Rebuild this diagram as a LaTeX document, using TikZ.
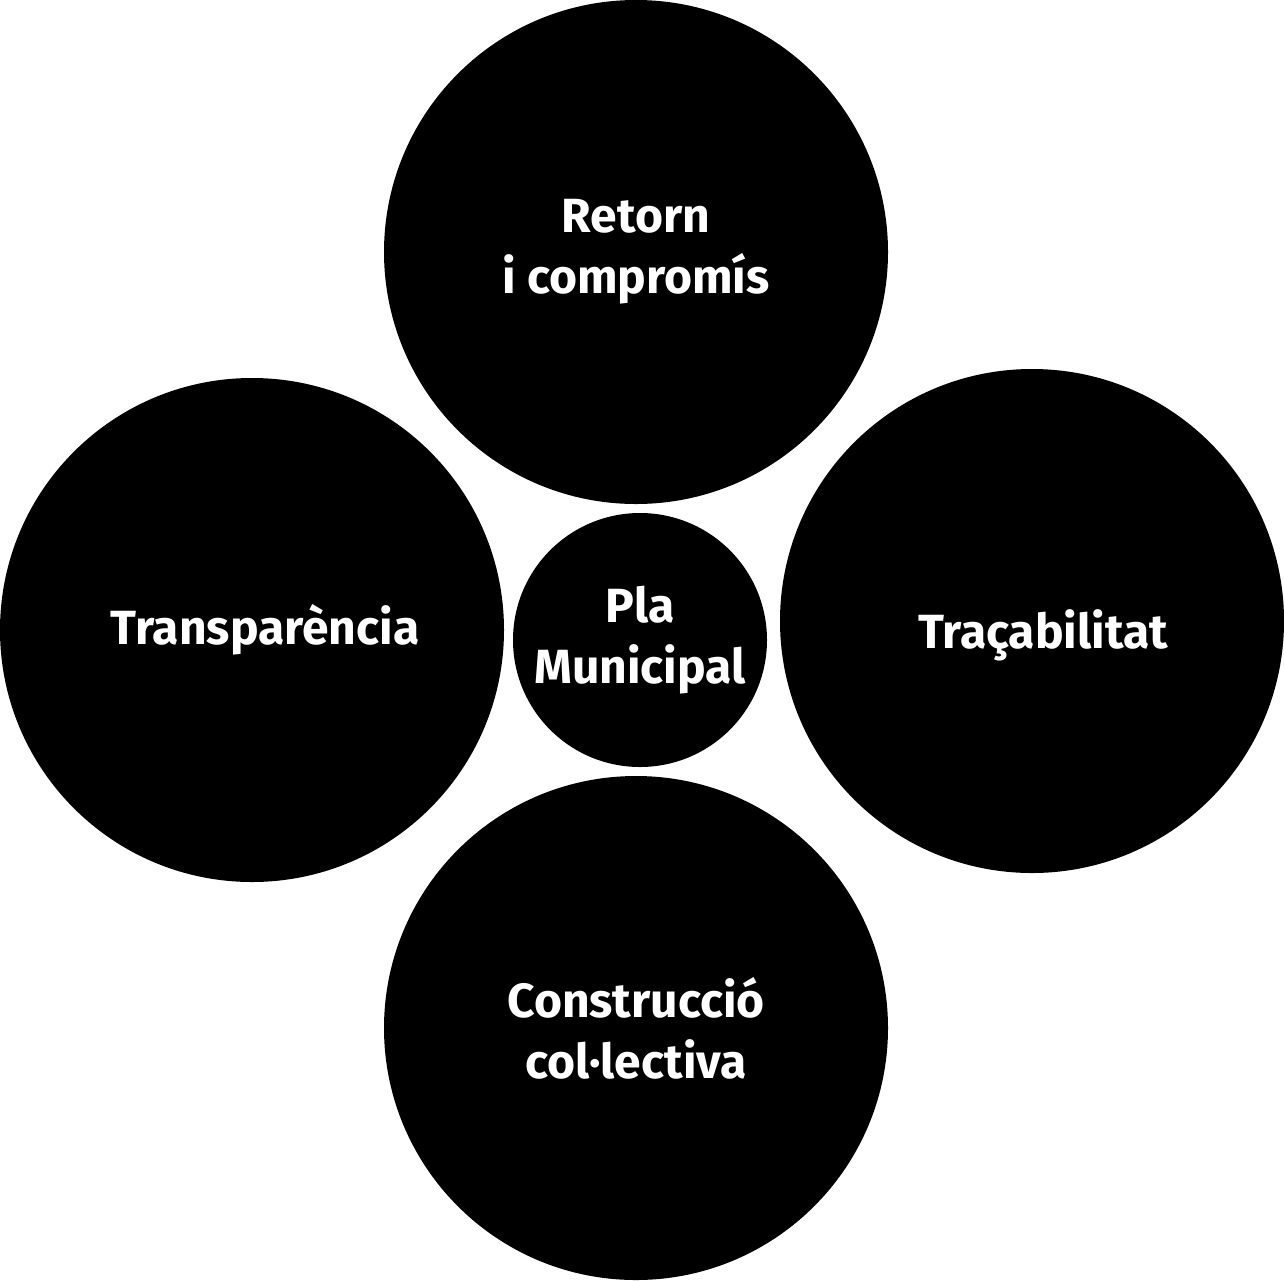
\documentclass[tikz,border=0pt]{standalone}
\usepackage{fontspec}
\setmainfont{Fira Sans}
\usepackage{tikz}
\usetikzlibrary{positioning}
\definecolor{bubbleblack}{HTML}{000000}
\begin{document}
\begin{tikzpicture}[
  x=0.5pt,y=-0.5pt,
  font=\fontsize{24}{30.5}\selectfont\bfseries,
  bubble/.style={circle,fill=bubbleblack,text=white,inner sep=0pt,minimum size=252pt,align=center},
  hub/.style={bubble,minimum size=127pt}
]
\useasboundingbox[fill=white] (0,0) rectangle (1284,1280);
\node[bubble] (ret) at (636,252) {Retorn\\i compromís};
\node[bubble] (tra) at (252,630) {\hspace*{13pt}Transparència};
\node[bubble] (trc) at (1032,621) {\hspace*{11pt}\raisebox{-13.5pt}[0pt][0pt]{Traçabilitat}};
\node[bubble] (con) at (636,1028) {Construcció\\col·lectiva};
\node[hub] (pla) at (640,640) {\raisebox{2pt}{Pla}\\\raisebox{2pt}{Municipal}};
\end{tikzpicture}
\end{document}
